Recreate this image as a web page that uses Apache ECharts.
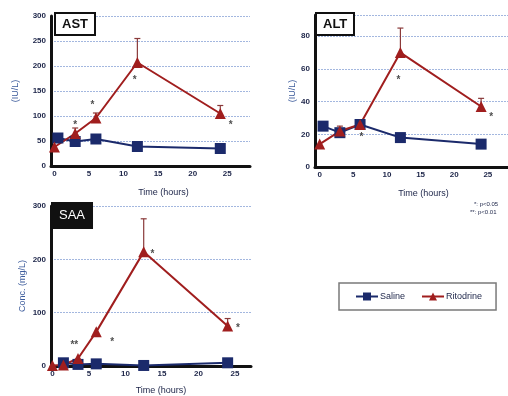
<!DOCTYPE html>
<html><head><meta charset="utf-8">
<script src="https://cdn.jsdelivr.net/npm/echarts@6/dist/echarts.min.js"></script>
<style>html,body{margin:0;padding:0;background:#fff}#c{width:508px;height:396px}</style>
</head><body><div id="c"></div>
<script>
// ---- data ----
const xTicks = [0, 5, 10, 15, 20, 25];
// AST
const astSalineX = [0.5, 3, 6, 12, 24];
const astSaline  = [56, 49, 54, 39, 35];
const astRitoX   = [0, 3, 6, 12, 24];
const astRito    = [38, 65, 96, 207, 105];
const astRitoHi  = [null, 76, 106, 255, 121];
const astStars   = [[3, 88, '*'], [5.5, 128, '*'], [11.6, 178, '*'], [25.5, 88, '*']];
// ALT
const altSalineX = [0.5, 3, 6, 12, 24];
const altSaline  = [25, 21, 26, 18, 14];
const altRitoX   = [0, 3, 6, 12, 24];
const altRito    = [14, 22, 26, 70, 37];
const altRitoHi  = [null, 25, null, 85, 42];
const altStars   = [[6.2, 20, '*'], [11.7, 55, '*'], [25.5, 32, '*']];
// SAA
const saaSalineX = [1.5, 3.5, 6, 12.5, 24];
const saaSaline  = [6, 3, 4, 1, 6];
const saaRitoX   = [0, 1.5, 3.5, 6, 12.5, 24];
const saaRito    = [1, 2, 14, 64, 214, 75];
const saaRitoHi  = [null, null, null, null, 276, 89];
const saaStars   = [[3.0, 44, '**'], [8.2, 50, '*'], [13.7, 215, '*'], [25.4, 76, '*']];

const NAVY = '#1b2a6b', RED = '#a01e1e', GRIDC = '#a3b7df', TXT = '#1c2448', NAMEC = '#3d5c9c';
const FONT = 'Liberation Sans';

const zip = (xs, ys) => xs.map((x, i) => [x, ys[i]]);
const zipErr = (xs, ys, hs) => xs.map((x, i) => [x, ys[i], hs[i]]).filter(d => d[2] != null);

function errRender(params, api) {
  const x = api.value(0), y = api.value(1), hi = api.value(2);
  const p = api.coord([x, y]), t = api.coord([x, hi]);
  return {type: 'group', children: [
    {type: 'line', shape: {x1: p[0], y1: p[1], x2: t[0], y2: t[1]}, style: {stroke: '#8a3a3a', lineWidth: 1.2}},
    {type: 'line', shape: {x1: t[0] - 3, y1: t[1], x2: t[0] + 3, y2: t[1]}, style: {stroke: '#8a3a3a', lineWidth: 1.2}}
  ]};
}

function xAxisCfg(idx, min, max, shift, gap) {
  return {
    type: 'value', gridIndex: idx, min: min, max: max,
    name: 'Time (hours)', nameLocation: 'middle', nameGap: gap,
    nameTextStyle: {color: TXT, fontSize: 9, fontFamily: FONT, padding: [0, 0, 0, shift]},
    axisLine: {show: true, lineStyle: {color: '#111', width: 3}},
    axisTick: {show: false},
    axisLabel: {customValues: xTicks, color: TXT, fontSize: 8, fontWeight: 'bold', fontFamily: FONT, margin: 4},
    splitLine: {show: false}
  };
}
function yAxisCfg(idx, max, interval, name, gap, showMax) {
  return {
    type: 'value', gridIndex: idx, min: 0, max: max, interval: interval,
    name: name, nameLocation: 'middle', nameGap: gap,
    nameTextStyle: {color: NAMEC, fontSize: 9, fontFamily: FONT},
    axisLine: {show: true, onZero: false, lineStyle: {color: '#111', width: 3}},
    axisTick: {show: false},
    axisLabel: {color: TXT, fontSize: 8, fontWeight: 'bold', fontFamily: FONT, margin: 5, showMaxLabel: showMax},
    splitLine: {show: true, lineStyle: {color: GRIDC, width: 1, type: [2, 1]}}
  };
}
function lineSeries(name, idx, data, color, symbol, size) {
  return {
    type: 'line', name: name, xAxisIndex: idx, yAxisIndex: idx, data: data,
    symbol: symbol, symbolSize: size, itemStyle: {color: color},
    lineStyle: {color: color, width: 2}, z: 5
  };
}
function errSeries(idx, data) {
  return {type: 'custom', xAxisIndex: idx, yAxisIndex: idx, data: data, renderItem: errRender, z: 4, silent: true};
}
function starSeries(idx, data) {
  return {
    type: 'scatter', xAxisIndex: idx, yAxisIndex: idx, data: data, symbolSize: 1,
    itemStyle: {color: 'rgba(0,0,0,0)'},
    label: {show: true, position: 'inside', formatter: p => p.data[2], color: '#222', fontSize: 10, fontWeight: 'bold', fontFamily: FONT, offset: [0, 3]},
    z: 6, silent: true
  };
}

const chart = echarts.init(document.getElementById('c'), null, {renderer: 'canvas'});
chart.setOption({
  backgroundColor: '#fff',
  animation: false,
  title: [
    {text: 'AST', left: 55, top: 13, backgroundColor: '#fff', borderColor: '#111', borderWidth: 2, padding: [5, 7, 4, 7],
     textStyle: {fontSize: 13, fontWeight: 'bold', color: '#111', fontFamily: FONT}},
    {text: 'ALT', left: 316, top: 13, backgroundColor: '#fff', borderColor: '#111', borderWidth: 2, padding: [5, 7, 4, 7],
     textStyle: {fontSize: 13, fontWeight: 'bold', color: '#111', fontFamily: FONT}},
    {text: 'SAA', left: 51, top: 202, backgroundColor: '#111', borderColor: '#111', borderWidth: 0, padding: [7, 8, 7, 8],
     textStyle: {fontSize: 13, fontWeight: 'normal', color: '#fff', fontFamily: FONT}}
  ],
  legend: {
    data: ['Saline', 'Ritodrine'], left: 339, top: 283, orient: 'horizontal',
    padding: [9, 14, 9, 16], itemGap: 16, itemWidth: 22, itemHeight: 10,
    borderColor: '#7a7a7a', borderWidth: 1.5, backgroundColor: '#fff',
    textStyle: {color: TXT, fontSize: 9, fontFamily: FONT, padding: [0, 0, 0, -3]}
  },
  grid: [
    {left: 51, top: 16, width: 199, height: 150},
    {left: 315, top: 15, width: 194, height: 152},
    {left: 51, top: 206, width: 200, height: 161}
  ],
  xAxis: [xAxisCfg(0, -0.5, 28.3, 26, 22), xAxisCfg(1, -0.7, 28, 24, 22), xAxisCfg(2, -0.2, 27.2, 20, 20)],
  yAxis: [yAxisCfg(0, 300, 50, '(IU/L)', 31, true), yAxisCfg(1, 93, 20, '(IU/L)', 17, false), yAxisCfg(2, 300, 100, 'Conc. (mg/L)', 24, true)],
  graphic: [
    {type: 'text', left: 474, top: 201, style: {text: '*: p<0.05', fontSize: 6, fill: TXT, fontFamily: FONT}},
    {type: 'text', left: 470, top: 209, style: {text: '**: p<0.01', fontSize: 6, fill: TXT, fontFamily: FONT}}
  ],
  series: [
    errSeries(0, zipErr(astRitoX, astRito, astRitoHi)),
    lineSeries('Saline', 0, zip(astSalineX, astSaline), NAVY, 'rect', 11),
    lineSeries('Ritodrine', 0, zip(astRitoX, astRito), RED, 'triangle', 11),
    starSeries(0, astStars),
    errSeries(1, zipErr(altRitoX, altRito, altRitoHi)),
    lineSeries('Saline', 1, zip(altSalineX, altSaline), NAVY, 'rect', 11),
    lineSeries('Ritodrine', 1, zip(altRitoX, altRito), RED, 'triangle', 11),
    starSeries(1, altStars),
    errSeries(2, zipErr(saaRitoX, saaRito, saaRitoHi)),
    lineSeries('Saline', 2, zip(saaSalineX, saaSaline), NAVY, 'rect', 11),
    lineSeries('Ritodrine', 2, zip(saaRitoX, saaRito), RED, 'triangle', 11),
    starSeries(2, saaStars)
  ]
});
</script></body></html>
